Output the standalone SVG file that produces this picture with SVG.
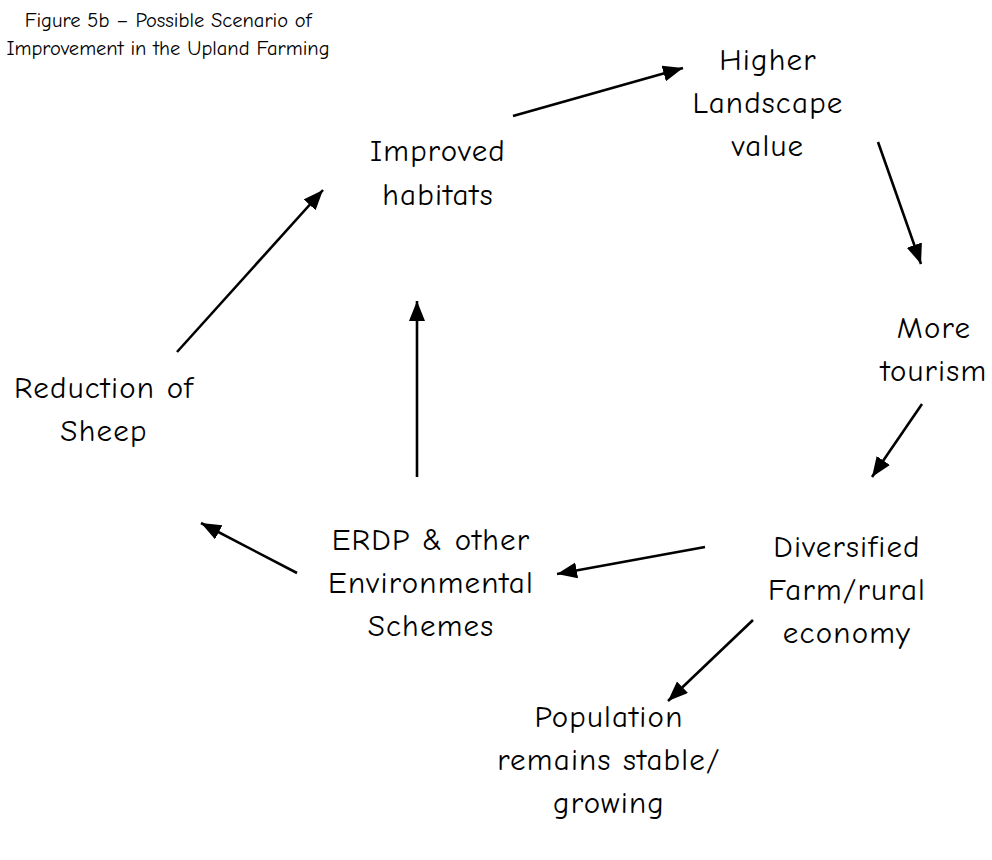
<svg xmlns="http://www.w3.org/2000/svg" width="992" height="860" viewBox="0 0 992 860">
<style>
text{font-family:"Comic Neue","DejaVu Sans",sans-serif;fill:#000;text-anchor:middle}
.t{font-size:20.5px}
.n{font-size:31px;letter-spacing:1.2px}
.c line{stroke:#000;stroke-width:2.6;fill:none;marker-end:url(#ah)}
</style>
<defs>
<marker id="ah" markerUnits="userSpaceOnUse" markerWidth="24" markerHeight="18" refX="20" refY="8" orient="auto">
<path d="M0,0 L20,8 L0,16 Z" fill="#000"/>
</marker>
</defs>
<rect width="992" height="860" fill="#fff"/>
<g id="title">
<text class="t" x="168" y="27">Figure 5b – Possible Scenario of</text>
<text class="t" x="168" y="55">Improvement in the Upland Farming</text>
</g>
<g id="improved">
<text class="n" x="438" y="161">Improved</text>
<text class="n" x="438" y="205">habitats</text>
</g>
<g id="higher">
<text class="n" x="768" y="70">Higher</text>
<text class="n" x="768" y="113">Landscape</text>
<text class="n" x="768" y="156">value</text>
</g>
<g id="tourism">
<text class="n" x="934" y="338">More</text>
<text class="n" x="934" y="381">tourism</text>
</g>
<g id="diversified">
<text class="n" x="847" y="557">Diversified</text>
<text class="n" x="847" y="600">Farm/rural</text>
<text class="n" x="847" y="643">economy</text>
</g>
<g id="erdp">
<text class="n" x="431" y="550">ERDP &amp; other</text>
<text class="n" x="431" y="593">Environmental</text>
<text class="n" x="431" y="636">Schemes</text>
</g>
<g id="reduction">
<text class="n" x="104" y="398">Reduction of</text>
<text class="n" x="104" y="441">Sheep</text>
</g>
<g id="population">
<text class="n" x="609" y="727">Population</text>
<text class="n" x="609" y="770">remains stable/</text>
<text class="n" x="609" y="813">growing</text>
</g>
<g id="connectors" class="c">
<line x1="513" y1="116" x2="683" y2="68"/>
<line x1="878" y1="142" x2="921" y2="264"/>
<line x1="922" y1="404" x2="872" y2="477"/>
<line x1="705" y1="547" x2="557" y2="574"/>
<line x1="753" y1="620" x2="668" y2="701"/>
<line x1="417" y1="477" x2="417" y2="301"/>
<line x1="297" y1="573" x2="201" y2="523"/>
<line x1="177" y1="352" x2="323" y2="190"/>
</g>
</svg>
